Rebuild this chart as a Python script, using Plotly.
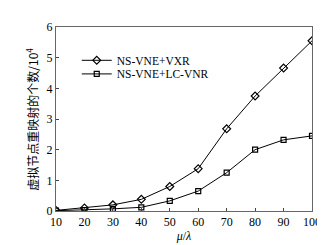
import plotly.graph_objects as go

x_vals = [10, 20, 30, 40, 50, 60, 70, 80, 90, 100]
vxr = [0.02, 0.1, 0.2, 0.38, 0.8, 1.38, 2.68, 3.75, 4.66, 5.55]
lcvnr = [0.01, 0.03, 0.07, 0.12, 0.33, 0.65, 1.25, 2.0, 2.32, 2.45]
names = ["NS-VNE+VXR", "NS-VNE+LC-VNR"]
y_ticks = [0, 1, 2, 3, 4, 5, 6]
y_title = "虚拟节点重映射的个数/10<sup>4</sup>"

font_serif = "Liberation Serif, Times New Roman, serif"

fig = go.Figure()
fig.add_trace(go.Scatter(x=x_vals, y=vxr, name=names[0], mode="lines+markers",
                         legend="legend",
                         line=dict(color="black", width=1),
                         marker=dict(symbol="diamond-open", size=6, color="black", line=dict(width=1.2))))
fig.add_trace(go.Scatter(x=x_vals, y=lcvnr, name=names[1], mode="lines+markers",
                         legend="legend2",
                         line=dict(color="black", width=1),
                         marker=dict(symbol="square-open", size=5, color="black", line=dict(width=1.2))))

leg_common = dict(xanchor="left", yanchor="middle", bgcolor="rgba(0,0,0,0)",
                  font=dict(size=11.5, family=font_serif, color="black"), itemwidth=30)

fig.update_layout(
    width=325, height=245,
    margin=dict(l=48, r=17, t=16, b=41),
    paper_bgcolor="white", plot_bgcolor="white",
    font=dict(family=font_serif, size=12, color="black"),
    showlegend=True,
    legend=dict(x=0.081, y=0.819, **leg_common),
    legend2=dict(x=0.081, y=0.745, **leg_common),
    xaxis=dict(range=[10, 100], tickvals=x_vals, ticks="inside", ticklen=3,
               showline=True, linecolor="#666", linewidth=1, mirror=True, showgrid=False,
               zeroline=False, tickfont=dict(size=12),
               title=dict(text="<i>μ</i>/<i>λ</i>", font=dict(size=12), standoff=3)),
    yaxis=dict(range=[0, 6], tickvals=y_ticks, ticks="inside", ticklen=3,
               showline=True, linecolor="#666", linewidth=1, mirror=True, showgrid=False,
               zeroline=False, tickfont=dict(size=12)),
    annotations=[dict(text=y_title, textangle=-90, xref="paper", yref="paper",
                      x=-0.095, y=0.5, xanchor="center", yanchor="middle", showarrow=False,
                      font=dict(size=12, family="Noto Sans CJK SC", color="black"))],
)
fig.write_html("out.html")
